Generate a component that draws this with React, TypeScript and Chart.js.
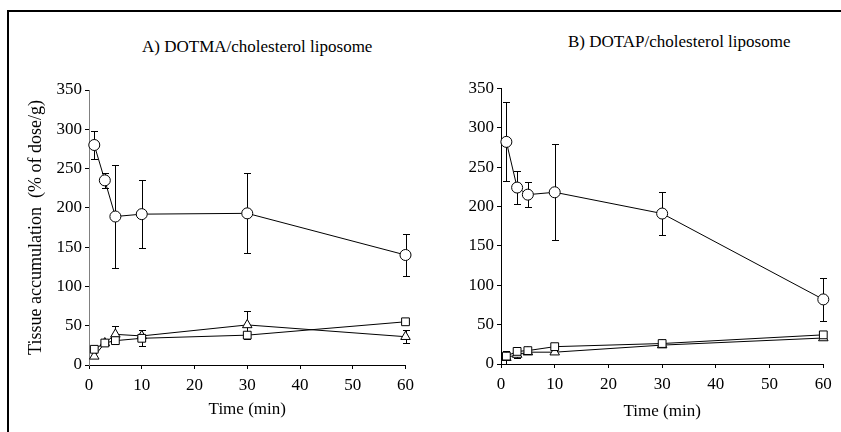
import React, { useEffect, useRef } from 'react';
import { Chart, registerables } from 'chart.js';

Chart.register(...registerables);

// ---- Data ----
const times = [1, 3, 5, 10, 30, 60];

// Panel A: DOTMA/cholesterol liposome
const aCircle = [280, 235, 189, 192, 193, 140];
const aCircleErr = [18, 10, 66, 43, 51, 27];
const aSquare = [20, 28, 31, 34, 38, 55];
const aSquareErr = [0, 0, 4, 10, 0, 0];
const aTriangle = [11, 28, 39, 37, 51, 36];
const aTriangleErr = [0, 0, 11, 7, 18, 8];

// Panel B: DOTAP/cholesterol liposome
const bCircle = [282, 224, 215, 218, 191, 82];
const bCircleErr = [50, 21, 16, 61, 27, 27];
const bSquare = [10, 16, 17, 22, 26, 37];
const bSquareErr = [0, 0, 0, 0, 0, 0];
const bTriangle = [8, 12, 15, 15, 24, 33];
const bTriangleErr = [8, 4, 0, 0, 0, 0];

const titleA = 'A) DOTMA/cholesterol liposome';
const titleB = 'B) DOTAP/cholesterol liposome';
const xTitle = 'Time (min)';
const yTitle = 'Tissue accumulation  (% of dose/g)';
const xMin = 0, xMax = 60, xStep = 10;
const yMin = 0, yMax = 350, yStep = 50;

const FONT = "'Liberation Serif', 'Times New Roman', serif";

const errorBarPlugin = {
  id: 'errorBars',
  beforeDatasetsDraw(chart: any) {
    const { ctx } = chart;
    const xs = chart.scales.x;
    const ys = chart.scales.y;
    ctx.save();
    ctx.strokeStyle = '#000';
    ctx.lineWidth = 1;
    chart.data.datasets.forEach((ds: any) => {
      const errs: number[] | undefined = ds.errs;
      if (!errs) return;
      ds.data.forEach((p: any, i: number) => {
        const e = errs[i];
        if (!e) return;
        const px = Math.round(xs.getPixelForValue(p.x)) + 0.5;
        const yt = Math.round(ys.getPixelForValue(p.y + e)) + 0.5;
        const yb = Math.round(ys.getPixelForValue(Math.max(p.y - e, 0))) + 0.5;
        ctx.beginPath();
        ctx.moveTo(px, yt);
        ctx.lineTo(px, yb);
        ctx.moveTo(px - 3.5, yt);
        ctx.lineTo(px + 3.5, yt);
        ctx.moveTo(px - 3.5, yb);
        ctx.lineTo(px + 3.5, yb);
        ctx.stroke();
      });
    });
    ctx.restore();
  },
};

function series(vals: number[], errs: number[], style: string, radius: number) {
  return {
    data: times.map((t, i) => ({ x: t, y: vals[i] })),
    errs,
    borderColor: '#000',
    borderWidth: 1,
    backgroundColor: '#fff',
    pointStyle: style,
    pointRadius: radius,
    pointBorderWidth: 1,
    pointBorderColor: '#000',
    pointBackgroundColor: '#fff',
    tension: 0,
    fill: false,
    clip: false,
  };
}

type PanelOpts = {
  circle: number[]; circleErr: number[];
  square: number[]; squareErr: number[];
  triangle: number[]; triangleErr: number[];
  padTop: number; padRight: number;
  yWidth: number; xHeight: number;
  xTitleBottom: number;
  showYTitle: boolean;
  yBorderColor: string;
};

function makeConfig(o: PanelOpts): any {
  return {
    type: 'line',
    data: {
      datasets: [
        series(o.circle, o.circleErr, 'circle', 5.5),
        series(o.square, o.squareErr, 'rect', 5.5),
        series(o.triangle, o.triangleErr, 'triangle', 5.5),
      ],
    },
    plugins: [errorBarPlugin],
    options: {
      animation: false,
      responsive: false,
      maintainAspectRatio: false,
      layout: { padding: { top: o.padTop, right: o.padRight, left: 0, bottom: 0 } },
      plugins: {
        legend: { display: false },
        tooltip: { enabled: false },
        title: { display: false },
      },
      scales: {
        x: {
          type: 'linear',
          min: xMin,
          max: xMax,
          ticks: { stepSize: xStep, color: '#000', font: { family: FONT, size: 17 }, padding: 6, maxRotation: 0 },
          grid: { drawOnChartArea: false, drawTicks: true, tickLength: 4, color: '#000' },
          border: { color: '#000', width: 1 },
          title: {
            display: true,
            text: xTitle,
            color: '#000',
            font: { family: FONT, size: 17 },
            padding: { top: 0, bottom: o.xTitleBottom },
          },
          afterFit: (s: any) => { s.height = o.xHeight; },
        },
        y: {
          type: 'linear',
          min: yMin,
          max: yMax,
          ticks: { stepSize: yStep, color: '#000', font: { family: FONT, size: 17 }, padding: 3 },
          grid: { drawOnChartArea: false, drawTicks: true, tickLength: 4, color: '#000' },
          border: { color: o.yBorderColor, width: 1 },
          title: {
            display: o.showYTitle,
            text: yTitle,
            color: '#000',
            font: { family: FONT, size: 18 },
            padding: { top: 25.7, bottom: 0 },
          },
          afterFit: (s: any) => { s.width = o.yWidth; },
        },
      },
    },
  };
}

function Panel({ left, width, opts }: { left: number; width: number; opts: PanelOpts }) {
  const ref = useRef<HTMLCanvasElement>(null);
  useEffect(() => {
    if (!ref.current) return;
    const chart = new Chart(ref.current, makeConfig(opts));
    return () => chart.destroy();
  }, []);
  return (
    <canvas
      ref={ref}
      width={width}
      height={432}
      style={{ position: 'absolute', left, top: 0, width, height: 432 }}
    />
  );
}

export default function App() {
  const optsA: PanelOpts = {
    circle: aCircle, circleErr: aCircleErr,
    square: aSquare, squareErr: aSquareErr,
    triangle: aTriangle, triangleErr: aTriangleErr,
    padTop: 90, padRight: 14, yWidth: 89, xHeight: 67, xTitleBottom: 11.8,
    showYTitle: true, yBorderColor: '#808080',
  };
  const optsB: PanelOpts = {
    circle: bCircle, circleErr: bCircleErr,
    square: bSquare, squareErr: bSquareErr,
    triangle: bTriangle, triangleErr: bTriangleErr,
    padTop: 88.3, padRight: 17.7, yWidth: 81, xHeight: 68, xTitleBottom: 9.8,
    showYTitle: false, yBorderColor: '#000',
  };
  const titleStyle: React.CSSProperties = {
    position: 'absolute',
    fontFamily: FONT,
    fontSize: 17,
    lineHeight: '17px',
    whiteSpace: 'nowrap',
    color: '#000',
  };
  return (
    <div style={{ position: 'absolute', left: 0, top: 0, width: 841, height: 432, overflow: 'hidden', background: '#fff' }}>
      <div style={{ position: 'absolute', left: 7, top: 10, width: 860, height: 450, borderTop: '2px solid #000', borderLeft: '2px solid #000' }} />
      <div style={{ ...titleStyle, left: 142, top: 37.7 }}>{titleA}</div>
      <div style={{ ...titleStyle, left: 568, top: 32.5 }}>{titleB}</div>
      <Panel left={0} width={420} opts={optsA} />
      <Panel left={420} width={421} opts={optsB} />
    </div>
  );
}
